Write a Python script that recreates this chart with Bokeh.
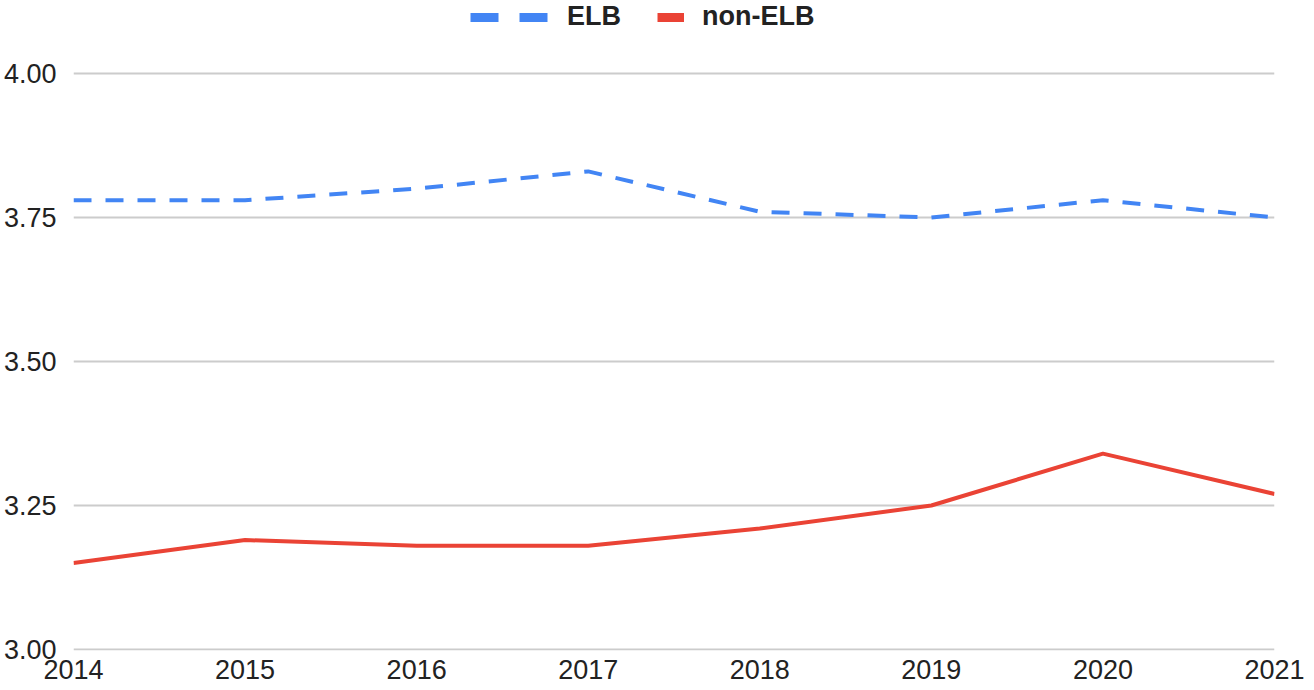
from bokeh.plotting import figure
from bokeh.models import Legend, LegendItem, FixedTicker, NumeralTickFormatter, Range1d
from bokeh.embed import file_html
from bokeh.resources import INLINE

years = [2014, 2015, 2016, 2017, 2018, 2019, 2020, 2021]
elb = [3.78, 3.78, 3.80, 3.83, 3.76, 3.75, 3.78, 3.75]
non_elb = [3.15, 3.19, 3.18, 3.18, 3.21, 3.25, 3.34, 3.27]
y_ticks = [3.00, 3.25, 3.50, 3.75, 4.00]

BLUE = "#4285F4"
RED = "#EA4335"
FONT = "Liberation Sans"
NAN = float("nan")

# frame spans the full top (legend sits inside it); 4.00 lands at y=73, 3.00 at y=649
p = figure(width=1306, height=688, output_backend="svg", toolbar_location=None,
           x_range=Range1d(2014, 2021), y_range=Range1d(2.99826, 4.12674),
           min_border_left=70, min_border_right=32, min_border_top=0, min_border_bottom=38)
p.outline_line_color = None
p.background_fill_color = "white"
p.border_fill_color = "white"

p.line(years, elb, line_color=BLUE, line_width=4, line_dash="18 14")
p.line(years, non_elb, line_color=RED, line_width=4)

# legend swatch proxies (no visible data)
r_elb = p.line(x=[NAN, NAN], y=[NAN, NAN], line_color=BLUE, line_width=9,
               line_dash="28 21", line_cap="butt")
r_non = p.line(x=[NAN, NAN], y=[NAN, NAN], line_color=RED, line_width=9, line_cap="butt")

def mk_legend(label, r, x, gw, standoff):
    lg = Legend(items=[LegendItem(label=label, renderers=[r])], location=(x, 618),
                orientation="horizontal", padding=0, margin=0, spacing=0,
                glyph_width=gw, glyph_height=18, label_height=18, label_standoff=standoff,
                border_line_color=None, background_fill_alpha=0,
                label_text_font=FONT, label_text_font_size="27px",
                label_text_font_style="bold", label_text_color="#222222")
    p.add_layout(lg, "center")

mk_legend("ELB", r_elb, 397, 78, 19)
mk_legend("non-ELB", r_non, 584, 27, 18)

for ax in (p.xaxis[0], p.yaxis[0]):
    ax.axis_line_color = None
    ax.major_tick_line_color = None
    ax.minor_tick_line_color = None
    ax.major_label_text_font = FONT
    ax.major_label_text_font_size = "27px"
    ax.major_label_text_color = "#222222"

p.xaxis.ticker = FixedTicker(ticks=years)
p.xaxis.major_label_standoff = 3
p.yaxis.ticker = FixedTicker(ticks=y_ticks)
p.yaxis.formatter = NumeralTickFormatter(format="0.00")
p.yaxis.major_label_standoff = 11

p.xgrid.grid_line_color = None
p.ygrid.grid_line_color = "#cccccc"
p.ygrid.grid_line_width = 2

open("out.html", "w").write(file_html(p, INLINE))
